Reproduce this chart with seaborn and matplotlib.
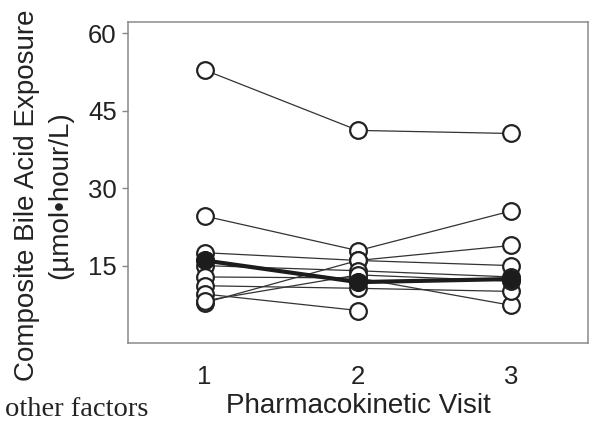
import matplotlib
matplotlib.use('Agg')
import numpy as np
import pandas as pd
import matplotlib.pyplot as plt
import seaborn as sns

# data (composite bile acid exposure, umol*hour/L)
visits = [1, 2, 3]
subjects = ['A', 'B', 'C', 'D', 'E', 'F', 'G', 'H', 'I']
visit1 = [52.9, 24.6, 17.5, 7.8, 15.0, 12.8, 11.1, 9.5, 8.2]
visit2 = [41.2, 17.9, 16.0, 16.0, 14.0, 12.6, 10.6, 6.3, 13.2]
visit3 = [40.6, 25.6, 15.0, 18.9, 12.8, 7.3, 10.0, np.nan, 12.0]
highlight = [16.0, 11.8, 12.4]

ytick_values = [15, 30, 45, 60]

df = pd.DataFrame({'subject': subjects, 1: visit1, 2: visit2, 3: visit3})
df = df.melt(id_vars='subject', var_name='visit', value_name='exposure').dropna()
df['visit'] = df['visit'].astype(int)

sns.set_theme(style='white')
plt.rcParams['font.family'] = ['Liberation Sans', 'DejaVu Sans']

fig = plt.figure(figsize=(6, 4.26), dpi=100)
ax = fig.add_axes([0.2133, 0.1948, 0.7667, 0.7535])

sns.lineplot(data=df, x='visit', y='exposure', units='subject', estimator=None,
             color='#333333', linewidth=0.9, marker='o', markersize=12,
             markerfacecolor='white', markeredgecolor='#222222',
             markeredgewidth=1.6, legend=False, ax=ax)

sns.lineplot(x=visits, y=highlight, color='#1c1c1c', linewidth=3, marker='o',
             markersize=13, markerfacecolor='#1c1c1c', markeredgecolor='#1c1c1c',
             ax=ax)

ax.set_xlim(0.5, 3.5)
ax.set_ylim(0, 62.2)
ax.set_xticks(visits)
ax.set_yticks(ytick_values)
ax.tick_params(axis='x', length=0, pad=16, labelsize=18.5, colors='#222222')
ax.tick_params(axis='y', left=True, length=4, width=1, color='#888888',
               pad=4, labelsize=18.5, labelcolor='#222222')

for s in ax.spines.values():
    s.set_color('#8a8a8a')
    s.set_linewidth(1.1)

ax.set_xlabel('Pharmacokinetic Visit', fontsize=20, color='#222222', labelpad=3)
ax.set_ylabel('Composite Bile Acid Exposure\n(µmol•hour/L)', fontsize=20,
              color='#222222', linespacing=1.35)
ax.yaxis.set_label_coords(-0.12, 0.46)

fig.text(0.008, 0.024, 'other factors', family=['Liberation Serif'], fontsize=20.5,
         color='#222222', va='baseline', ha='left')

fig.savefig('out.png', dpi=100)
